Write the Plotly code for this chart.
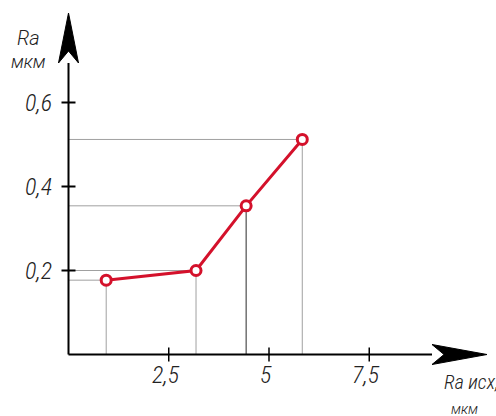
import plotly.graph_objects as go

# data
ra_src = [0.94, 3.18, 4.43, 5.83]
ra_res = [0.177, 0.200, 0.354, 0.512]
x_ticks = [2.5, 5, 7.5]
x_ticktext = ["2,5", "5", "7,5"]
y_ticks = [0.2, 0.4, 0.6]
y_ticktext = ["0,2", "0,4", "0,6"]

FONT = "Roboto Condensed, DejaVu Sans Condensed, sans-serif"
FONT2 = "Roboto, DejaVu Sans, sans-serif"
TXT = "#222222"
RED = "#d4112b"
GRID = "#a0a0a0"

W, H = 496, 416
OX, OY = 68.5, 354.5          # pixel of origin
SX, SY = 40.1, 420.0          # pixels per unit
px_x = 1 / SX
px_y = 1 / SY
XR = [-OX / SX, (W - OX) / SX]
YR = [-(H - OY) / SY, OY / SY]

def pxX(p):
    return (p - OX) / SX

def pxY(p):
    return (OY - p) / SY

fig = go.Figure()

# guide lines
for i, (x, y) in enumerate(zip(ra_src, ra_res)):
    fig.add_trace(go.Scatter(x=[0, x], y=[y, y], mode="lines",
                             line=dict(color=GRID, width=1), hoverinfo="skip", showlegend=False))
    fig.add_trace(go.Scatter(x=[x, x], y=[y, 0], mode="lines",
                             line=dict(color="#2a2a2a" if i == 2 else GRID, width=1),
                             hoverinfo="skip", showlegend=False))

# main curve
fig.add_trace(go.Scatter(x=ra_src, y=ra_res, mode="lines+markers",
                         line=dict(color=RED, width=3),
                         marker=dict(size=10, color="white", line=dict(color=RED, width=3)),
                         showlegend=False))

shapes = []
y_tip, y_base = pxY(13), pxY(63)
x_tip, x_base = pxX(487), pxX(432)
shapes.append(dict(type="line", xref="x", yref="y", x0=0, y0=0, x1=0, y1=y_base,
                   line=dict(color="black", width=2), layer="above"))
shapes.append(dict(type="line", xref="x", yref="y", x0=0, y0=0, x1=x_base, y1=0,
                   line=dict(color="black", width=2), layer="above"))
hw_x = 10 * px_x
hw_y = 10 * px_y
shapes.append(dict(type="path", xref="x", yref="y",
                   path=f"M 0 {y_tip} L {-hw_x} {y_base} L 0 {y_base + 12*px_y} L {hw_x} {y_base} Z",
                   fillcolor="black", line=dict(color="black", width=1)))
shapes.append(dict(type="path", xref="x", yref="y",
                   path=f"M {x_tip} 0 L {x_base} {hw_y} L {x_base + 12*px_x} 0 L {x_base} {-hw_y} Z",
                   fillcolor="black", line=dict(color="black", width=1)))
for v in y_ticks:
    shapes.append(dict(type="line", xref="x", yref="y", xsizemode="pixel", xanchor=0,
                       x0=-7, x1=7, y0=v, y1=v, line=dict(color="black", width=2)))
for v in x_ticks:
    shapes.append(dict(type="line", xref="x", yref="y", ysizemode="pixel", yanchor=0,
                       y0=-7, y1=7, x0=v, x1=v, line=dict(color="black", width=1.5)))

ann = []
for v, t in zip(y_ticks, y_ticktext):
    ann.append(dict(text=t, xref="x", yref="y", x=0, y=v, xshift=-15, yshift=0,
                    xanchor="right", yanchor="middle", showarrow=False,
                    font=dict(family=FONT, size=24, color=TXT, style="italic", weight=300)))
for v, t in zip(x_ticks, x_ticktext):
    ann.append(dict(text=t, xref="x", yref="y", x=v, y=0, xshift=-3, yshift=-20,
                    xanchor="center", yanchor="middle", showarrow=False,
                    font=dict(family=FONT, size=24, color=TXT, style="italic", weight=300)))

ann.append(dict(text="Ra", xref="x", yref="y", x=pxX(28), y=pxY(38),
                xanchor="center", yanchor="middle", showarrow=False,
                font=dict(family=FONT2, size=20, color=TXT, style="italic", weight=300)))
ann.append(dict(text="мкм", xref="x", yref="y", x=pxX(28), y=pxY(61),
                xanchor="center", yanchor="middle", showarrow=False,
                font=dict(family=FONT2, size=18, color=TXT, style="italic", weight=300)))
ann.append(dict(text="Ra исх,", xref="x", yref="y", x=pxX(442), y=pxY(382),
                xanchor="left", yanchor="middle", showarrow=False,
                font=dict(family=FONT, size=20, color=TXT, style="italic", weight=300)))
ann.append(dict(text="мкм", xref="x", yref="y", x=pxX(464), y=pxY(409),
                xanchor="center", yanchor="middle", showarrow=False,
                font=dict(family=FONT2, size=14, color=TXT, style="italic", weight=300)))
# fragments of a cropped text line above the chart
ann.append(dict(text="р", xref="x", yref="paper", x=pxX(110), y=1 - 2 / H,
                xanchor="center", yanchor="bottom", showarrow=False,
                font=dict(family="Liberation Serif", size=28, color="black")))
ann.append(dict(text="у", xref="x", yref="paper", x=pxX(236), y=1 - 2 / H,
                xanchor="center", yanchor="bottom", showarrow=False,
                font=dict(family="Liberation Serif", size=28, color="black")))

fig.update_layout(
    width=W, height=H,
    margin=dict(l=0, r=0, t=0, b=0),
    paper_bgcolor="white", plot_bgcolor="white",
    shapes=shapes, annotations=ann,
    xaxis=dict(range=XR, visible=False, fixedrange=True),
    yaxis=dict(range=YR, visible=False, fixedrange=True),
)

fig.write_html("out.html", config={"displayModeBar": False},
               post_script="document.body.style.margin='0';document.body.style.overflow='hidden';")
